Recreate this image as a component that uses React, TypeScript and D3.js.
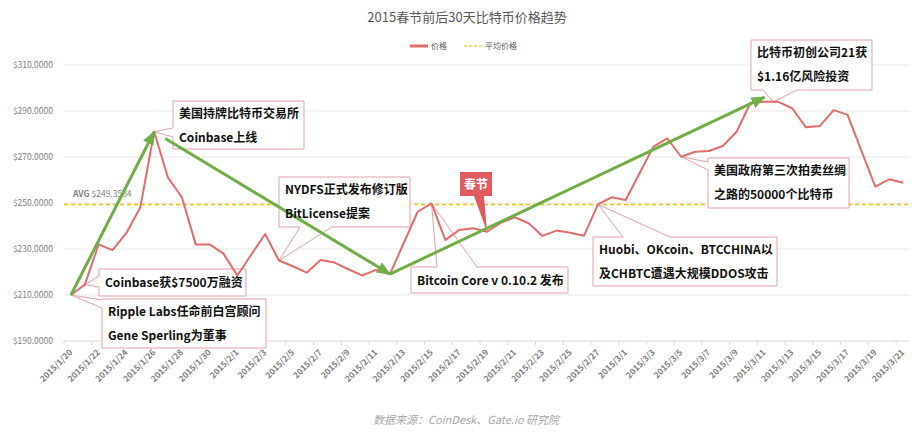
import { useEffect, useRef } from 'react';
import * as d3 from 'd3';

// categories: one per day
const dates = [
  '2015/1/20', '2015/1/21', '2015/1/22', '2015/1/23', '2015/1/24', '2015/1/25', '2015/1/26',
  '2015/1/27', '2015/1/28', '2015/1/29', '2015/1/30', '2015/1/31',
  '2015/2/1', '2015/2/2', '2015/2/3', '2015/2/4', '2015/2/5', '2015/2/6', '2015/2/7',
  '2015/2/8', '2015/2/9', '2015/2/10', '2015/2/11', '2015/2/12', '2015/2/13', '2015/2/14',
  '2015/2/15', '2015/2/16', '2015/2/17', '2015/2/18', '2015/2/19', '2015/2/20', '2015/2/21',
  '2015/2/22', '2015/2/23', '2015/2/24', '2015/2/25', '2015/2/26', '2015/2/27', '2015/2/28',
  '2015/3/1', '2015/3/2', '2015/3/3', '2015/3/4', '2015/3/5', '2015/3/6', '2015/3/7',
  '2015/3/8', '2015/3/9', '2015/3/10', '2015/3/11', '2015/3/12', '2015/3/13', '2015/3/14',
  '2015/3/15', '2015/3/16', '2015/3/17', '2015/3/18', '2015/3/19', '2015/3/20', '2015/3/21',
];

// daily price (USD)
const prices = [
  210, 214.5, 232, 229.5, 237, 248, 281,
  261, 252.5, 232, 232, 228,
  218.5, 227.5, 236.5, 225, 222.5, 219.7, 225.2,
  224.1, 221.2, 218.5, 220.9, 219.1, 232.6, 246.2,
  249.8, 233.9, 238.3, 239, 237.5, 241.4, 243.8,
  241.2, 235.7, 238, 237.1, 235.8, 249.4, 252.5,
  251.3, 262.9, 274.5, 278.1, 270.1, 272.3, 272.6,
  274.8, 281, 293.6, 294, 294, 291.2, 282.9,
  283.5, 290.4, 288.3, 272.7, 257.1, 260.3, 258.8,
];

const avgPrice = 249.3584;
const yTicks = [190, 210, 230, 250, 270, 290, 310];

const title = '2015春节前后30天比特币价格趋势';
const legendLabels = ['价格', '平均价格'];
const source = '数据来源：CoinDesk、Gate.io 研究院';

// event notes pinned to a date
const notes = [
  { date: '2015/1/26', lines: ['美国持牌比特币交易所', 'Coinbase上线'] },
  { date: '2015/1/21', lines: ['Coinbase获$7500万融资'] },
  { date: '2015/1/20', lines: ['Ripple Labs任命前白宫顾问', 'Gene Sperling为董事'] },
  { date: '2015/2/4', lines: ['NYDFS正式发布修订版', 'BitLicense提案'] },
  { date: '2015/2/15', lines: ['Bitcoin Core v 0.10.2 发布'] },
  { date: '2015/2/19', lines: ['春节'] },
  { date: '2015/2/27', lines: ['Huobi、OKcoin、BTCCHINA以', '及CHBTC遭遇大规模DDOS攻击'] },
  { date: '2015/3/5', lines: ['美国政府第三次拍卖丝绸', '之路的50000个比特币'] },
  { date: '2015/3/11', lines: ['比特币初创公司21获', '$1.16亿风险投资'] },
];

// trend arrows: [from date, to date, to price]
const trends: [string, string, number][] = [
  ['2015/1/20', '2015/1/26', 281],
  ['2015/1/26', '2015/2/12', 219.1],
  ['2015/2/12', '2015/3/11', 296],
];

// callout box layout (px), same order as notes
const boxes = [
  { x: 173, y: 101, w: 131, h: 48, side: 'left', b: [128, 137], dx: 0 },
  { x: 99, y: 269, w: 147, h: 27, side: 'left', b: [276, 287], dx: 0 },
  { x: 102, y: 299, w: 164, h: 49, side: 'left', b: [300, 308], dx: 0 },
  { x: 279, y: 177, w: 131, h: 50, side: 'bottom', b: [300, 332], dx: 0 },
  { x: 411, y: 267, w: 157, h: 26, side: 'top', b: [437, 477], dx: 0 },
  { x: 460, y: 172, w: 32, h: 24, side: 'bottom', b: [474, 484], dx: 0 },
  { x: 593, y: 237, w: 184, h: 49, side: 'top', b: [623, 670], dx: 0 },
  { x: 708, y: 158, w: 141, h: 50, side: 'left', b: [162, 170], dx: 0 },
  { x: 751, y: 40, w: 121, h: 50, side: 'bottom', b: [763, 797], dx: 9 },
];

const FONT = '"Noto Sans CJK SC", "Noto Sans", sans-serif';

export default function App() {
  const svgRef = useRef<SVGSVGElement | null>(null);

  const width = 916;
  const height = 442;
  const plot = { left: 64, right: 910, top: 65, bottom: 341 };

  useEffect(() => {
    const svg = d3.select(svgRef.current);
    svg.selectAll('*').remove();

    const x = d3.scalePoint<string>().domain(dates).range([plot.left, plot.right]).padding(0.5);
    const y = d3.scaleLinear().domain([190, 310]).range([plot.bottom, plot.top]);
    const step = x.step();

    svg.append('rect').attr('width', width).attr('height', height).attr('fill', '#fff');

    // arrow marker
    svg.append('defs')
      .append('marker')
      .attr('id', 'arrowhead')
      .attr('markerUnits', 'userSpaceOnUse')
      .attr('viewBox', '0 0 12 10')
      .attr('refX', 11)
      .attr('refY', 5)
      .attr('markerWidth', 14)
      .attr('markerHeight', 12)
      .attr('orient', 'auto')
      .append('path')
      .attr('d', 'M0,0 L12,5 L0,10 Z')
      .attr('fill', '#70ad47');

    // title
    svg.append('text')
      .attr('x', 467)
      .attr('y', 22)
      .attr('text-anchor', 'middle')
      .attr('font-family', FONT)
      .attr('font-size', 13)
      .attr('fill', '#595959')
      .text(title);

    // legend
    const lg = svg.append('g').attr('font-family', FONT).attr('font-size', 8).attr('fill', '#595959');
    lg.append('line').attr('x1', 410).attr('x2', 428).attr('y1', 46).attr('y2', 46)
      .attr('stroke', '#e46c6c').attr('stroke-width', 3);
    lg.append('text').attr('x', 431).attr('y', 49).text(legendLabels[0]);
    lg.append('line').attr('x1', 464).attr('x2', 482).attr('y1', 46).attr('y2', 46)
      .attr('stroke', '#f5c000').attr('stroke-width', 1.2).attr('stroke-dasharray', '3,2');
    lg.append('text').attr('x', 485).attr('y', 49).text(legendLabels[1]);

    // gridlines + y labels
    svg.append('g')
      .selectAll('line')
      .data(yTicks)
      .enter()
      .append('line')
      .attr('x1', plot.left)
      .attr('x2', plot.right)
      .attr('y1', (d) => y(d))
      .attr('y2', (d) => y(d))
      .attr('stroke', (d) => (d === 190 ? '#d9d9d9' : '#e8e8e8'))
      .attr('stroke-width', 1);

    svg.append('g')
      .selectAll('text')
      .data(yTicks)
      .enter()
      .append('text')
      .attr('x', 53)
      .attr('y', (d) => y(d) + 3)
      .attr('text-anchor', 'end')
      .attr('font-family', FONT)
      .attr('font-size', 8.5)
      .attr('fill', '#7f7f7f')
      .text((d) => `$${d.toFixed(4)}`);

    // x ticks at category boundaries, every two days
    const labelDates = dates.filter((_, i) => i % 2 === 0);
    svg.append('g')
      .selectAll('line')
      .data(labelDates)
      .enter()
      .append('line')
      .attr('x1', (d) => (x(d) as number) - step / 2)
      .attr('x2', (d) => (x(d) as number) - step / 2)
      .attr('y1', plot.bottom)
      .attr('y2', plot.bottom + 4)
      .attr('stroke', '#d9d9d9');

    svg.append('g')
      .selectAll('text')
      .data(labelDates)
      .enter()
      .append('text')
      .attr('transform', (d) => `translate(${(x(d) as number) + 2},${plot.bottom + 12}) rotate(-45)`)
      .attr('text-anchor', 'end')
      .attr('font-family', FONT)
      .attr('font-size', 8.5)
      .attr('font-weight', 'bold')
      .attr('fill', '#7f7f7f')
      .text((d) => d);

    // average line
    svg.append('line')
      .attr('x1', plot.left)
      .attr('x2', plot.right)
      .attr('y1', y(avgPrice))
      .attr('y2', y(avgPrice))
      .attr('stroke', '#f5c000')
      .attr('stroke-width', 1.3)
      .attr('stroke-dasharray', '4,3');

    const avgLabel = svg.append('text')
      .attr('x', 73)
      .attr('y', y(avgPrice) - 7)
      .attr('font-family', FONT)
      .attr('font-size', 8.5)
      .attr('fill', '#7f7f7f');
    avgLabel.append('tspan').attr('font-weight', 'bold').text('AVG ');
    avgLabel.append('tspan').text(`$${avgPrice}`);

    // callout shapes (under the line)
    const textLayer: { t: string; x: number; y: number; holiday: boolean }[] = [];
    notes.forEach((n, i) => {
      const b = boxes[i];
      const tx = (x(n.date) as number) + b.dx;
      const ty = y(prices[dates.indexOf(n.date)]);
      const { x: bx, y: by, w, h } = b;
      let d = '';
      if (b.side === 'left') {
        d = `M${bx},${by} H${bx + w} V${by + h} H${bx} V${b.b[1]} L${tx},${ty} L${bx},${b.b[0]} Z`;
      } else if (b.side === 'top') {
        d = `M${bx},${by} H${b.b[0]} L${tx},${ty} L${b.b[1]},${by} H${bx + w} V${by + h} H${bx} Z`;
      } else {
        d = `M${bx},${by} H${bx + w} V${by + h} H${b.b[1]} L${tx},${ty} L${b.b[0]},${by + h} H${bx} Z`;
      }
      const holiday = n.lines[0] === '春节';
      svg.append('path')
        .attr('d', d)
        .attr('fill', holiday ? '#e05a5e' : '#fff')
        .attr('stroke', holiday ? 'none' : '#e3a0a6')
        .attr('stroke-width', 1);

      n.lines.forEach((t, j) => {
        textLayer.push({
          t,
          x: holiday ? bx + w / 2 : bx + 6,
          y: h < 30 ? by + h / 2 + 4.5 : by + 17 + j * 24,
          holiday,
        });
      });
    });

    // price line
    const line = d3.line<number>()
      .x((_, i) => x(dates[i]) as number)
      .y((d) => y(d));

    svg.append('path')
      .datum(prices)
      .attr('fill', 'none')
      .attr('stroke', '#e46c6c')
      .attr('stroke-width', 2)
      .attr('stroke-linejoin', 'round')
      .attr('d', line);

    // trend arrows
    trends.forEach(([from, to, toVal], i) => {
      const fi = dates.indexOf(from);
      let x1 = x(from) as number;
      let y1 = y(prices[fi]);
      const x2 = x(to) as number;
      const y2 = y(toVal);
      if (i === 1) {
        const len = Math.hypot(x2 - x1, y2 - y1);
        x1 += ((x2 - x1) / len) * 13;
        y1 += ((y2 - y1) / len) * 13;
      }
      svg.append('line')
        .attr('x1', x1)
        .attr('y1', y1)
        .attr('x2', x2)
        .attr('y2', y2)
        .attr('stroke', '#70ad47')
        .attr('stroke-width', 3)
        .attr('marker-end', 'url(#arrowhead)');
    });

    // callout texts on top
    svg.append('g')
      .selectAll('text')
      .data(textLayer)
      .enter()
      .append('text')
      .attr('x', (d) => d.x)
      .attr('y', (d) => d.y)
      .attr('text-anchor', (d) => (d.holiday ? 'middle' : 'start'))
      .attr('font-family', FONT)
      .attr('font-size', 12)
      .attr('font-weight', 'bold')
      .attr('fill', (d) => (d.holiday ? '#fff' : '#111'))
      .text((d) => d.t);

    // source footnote
    svg.append('text')
      .attr('x', 466)
      .attr('y', 424)
      .attr('text-anchor', 'middle')
      .attr('font-family', FONT)
      .attr('font-size', 11)
      .attr('font-style', 'italic')
      .attr('fill', '#a6a6a6')
      .text(source);
  }, []);

  return (
    <svg
      ref={svgRef}
      width={width}
      height={height}
      style={{ position: 'absolute', left: 0, top: 0, display: 'block' }}
    ></svg>
  );
}
